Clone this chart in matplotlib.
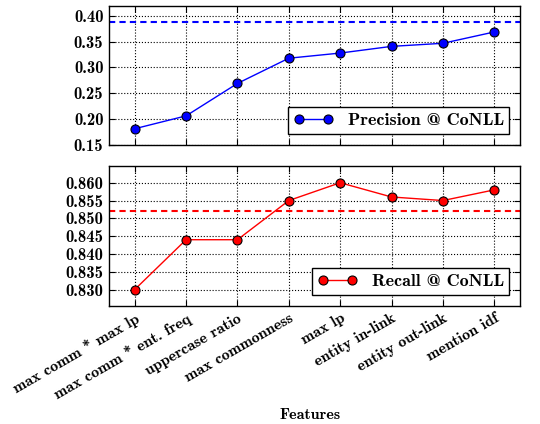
import matplotlib
matplotlib.use('Agg')
import matplotlib.pyplot as plt

features = ['max comm * max lp', 'max comm * ent. freq', 'uppercase ratio',
            'max commonness', 'max lp', 'entity in-link', 'entity out-link',
            'mention idf']
precision = [0.181, 0.206, 0.269, 0.318, 0.328, 0.341, 0.347, 0.369]
recall = [0.830, 0.844, 0.844, 0.855, 0.860, 0.856, 0.855, 0.858]
precision_base = 0.389
recall_base = 0.852

plt.rcParams['font.family'] = ['cmb10', 'DejaVu Serif']
plt.rcParams['mathtext.fontset'] = 'cm'
plt.rcParams['axes.unicode_minus'] = False

fig = plt.figure(figsize=(5.4, 4.24), dpi=100)
ax1 = fig.add_axes([109/540, 1 - 144.7/424, 411/540, 139/424])
ax2 = fig.add_axes([109/540, 1 - 305.6/424, 411/540, 139.6/424])

x = list(range(len(features)))

ax1.plot(x, precision, '-o', color='blue', mec='black', mew=0.8, ms=6.5,
         lw=1, label='Precision @ CoNLL')
ax1.axhline(precision_base, color='blue', ls='--', lw=1.5, dashes=(3, 2))
ax1.set_ylim(0.15, 0.42)
ax1.set_yticks([0.15, 0.20, 0.25, 0.30, 0.35, 0.40])
ax1.set_yticklabels(['%.2f' % v for v in ax1.get_yticks()])

ax2.plot(x, recall, '-o', color='red', mec='black', mew=0.8, ms=6.5,
         lw=1, label='Recall @ CoNLL')
ax2.axhline(recall_base, color='red', ls='--', lw=1.5, dashes=(3, 2))
ax2.set_ylim(0.8255, 0.8647)
ax2.set_yticks([0.830, 0.835, 0.840, 0.845, 0.850, 0.855, 0.860])
ax2.set_yticklabels(['%.3f' % v for v in ax2.get_yticks()])

for ax in (ax1, ax2):
    ax.set_xlim(-0.5, 7.5)
    ax.set_xticks(x)
    ax.grid(True, color='black', ls=':', lw=0.8)
    ax.tick_params(direction='in', top=True, right=True, labelsize=12,
                   length=4, pad=4)
    for s in ax.spines.values():
        s.set_linewidth(1.0)
    leg = ax.legend(loc='lower right', numpoints=2, fontsize=13,
                    fancybox=False, framealpha=1, edgecolor='black',
                    handlelength=2.2, borderpad=0.3, borderaxespad=0.6)
    leg.get_frame().set_linewidth(1.0)

ax1.set_xticklabels([])
ax2.set_xticklabels(features, rotation=30, ha='right', va='top',
                    rotation_mode='anchor', fontsize=11.5)
fig.text(310/540, 1 - 415/424, 'Features', ha='center', va='center',
         fontsize=11.5)

fig.savefig('out.png', dpi=100)
